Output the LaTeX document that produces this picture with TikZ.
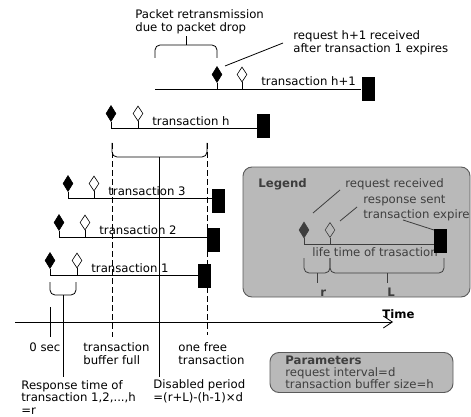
\documentclass[tikz,border=0pt]{standalone}
\usepackage{fontspec}
\setmainfont{DejaVu Sans}
\usetikzlibrary{shapes.geometric,arrows.meta}
\definecolor{panelfill}{HTML}{B9B9B9}
\definecolor{panelline}{HTML}{5A5A5A}
\definecolor{paneltext}{HTML}{3E3E3E}
\begin{document}
\begin{tikzpicture}[x=1pt,y=-1pt,
  every path/.style={line width=0.8pt},
  lbl/.style={inner sep=0pt, font=\fontsize{11.7}{13}\selectfont, anchor=base west},
  mlbl/.style={inner sep=0pt, font=\fontsize{11.7}{13}\selectfont, anchor=north west, align=left},
  req/.style={diamond, draw, fill=black, minimum width=10pt, minimum height=16pt, inner sep=0pt, line width=0.6pt},
  resp/.style={diamond, draw, fill=white, minimum width=10pt, minimum height=15pt, inner sep=0pt, line width=0.6pt},
  expire/.style={rectangle, fill=black, minimum width=13pt, minimum height=24pt, inner sep=0pt},
  brace/.style={rounded corners=5pt},
  guide/.style={dash pattern=on 6pt off 3pt},
  panel/.style={draw=panelline, fill=panelfill, rounded corners=9pt, line width=0.9pt, inner sep=0pt},
]
\useasboundingbox (0,0) rectangle (471,417);

% ---------- transaction h+1 ----------
\coordinate (sH1) at (155,89);
\node[req]  (qH1) at (217,74.5) {};
\node[resp] (pH1) at (242,74.5) {};
\node[expire] (eH1) at (368,89) {};
\draw (sH1) -- (sH1 -| eH1.west);
\draw (qH1.south) -- (qH1.south |- sH1);
\draw (pH1.south) -- (pH1.south |- sH1);
\node[lbl] (tH1) at (261,86) {transaction h+1};

% retransmission brace
\draw[brace] (155,58) -- (155,45) -- (217,45) -- (217,58);
\coordinate (retxTop) at (186,36);
\coordinate (retxMid) at (186,45);
\draw (retxMid) -- (retxTop);
\node[mlbl] (retx) at (135,9.5) {Packet retransmission\\due to packet drop};

% late request note
\node[mlbl] (late) at (293,30.5) {request h+1 received\\after transaction 1 expires};
\coordinate (lateA) at (283,43);
\coordinate (lateB) at (225,66);
\draw (lateA) -- (lateB);

% ---------- transaction h ----------
\coordinate (sH) at (111,128);
\node[req]  (qH) at (111,113.5) {};
\node[resp] (pH) at (138,113.5) {};
\node[expire] (eH) at (263.5,126.5) {};
\draw (sH) -- (sH -| eH.west);
\draw (qH.south) -- (qH.south |- sH);
\draw (pH.south) -- (pH.south |- sH);
\node[lbl] (tH) at (152,125) {transaction h};

% ---------- transaction 3 ----------
\coordinate (s3) at (68,198);
\node[req]  (q3) at (68,183.5) {};
\node[resp] (p3) at (94,183.5) {};
\node[lbl] (t3) at (108,195) {transaction 3};
\draw (s3) -- (225,198);
\node[expire] (e3) at (218.5,200.5) {};
\draw (q3.south) -- (q3.south |- s3);
\draw (p3.south) -- (p3.south |- s3);

% ---------- transaction 2 ----------
\coordinate (s2) at (59,237);
\node[req]  (q2) at (59,222.5) {};
\node[resp] (p2) at (85,222.5) {};
\node[lbl] (t2) at (99,234) {transaction 2};
\draw (s2) -- (213,237);
\node[expire] (e2) at (213,239.5) {};
\draw (q2.south) -- (q2.south |- s2);
\draw (p2.south) -- (p2.south |- s2);

% ---------- transaction 1 ----------
\coordinate (s1) at (50,275);
\node[req]  (q1) at (50,260.5) {};
\node[resp] (p1) at (77,260.5) {};
\node[lbl] (t1) at (91,272) {transaction 1};
\draw (s1) -- (204,275);
\node[expire] (e1) at (204.5,275.5) {};
\draw (q1.south) -- (q1.south |- s1);
\draw (p1.south) -- (p1.south |- s1);

% ---------- disabled period ----------
\coordinate (fullTop) at (112,143);
\coordinate (fullBot) at (112,337);
\coordinate (freeTop) at (207,143);
\coordinate (freeBot) at (207,335);
\draw[guide] (fullTop) -- (fullBot);
\draw[guide] (freeTop) -- (freeBot);
\draw[brace] (fullTop) -- (112,157) -- (207,157) -- (freeTop);
\coordinate (disTop) at (159.5,157);
\coordinate (disBot) at (159.5,377);
\draw (disTop) -- (disBot);

% ---------- response time ----------
\draw[brace] (50,282) -- (50,295) -- (76,295) -- (76,282);
\coordinate (rspTop) at (63,295);
\coordinate (rspBot) at (63,377);
\draw (rspTop) -- (rspBot);
\coordinate (zeroTop) at (50,307);
\coordinate (zeroBot) at (50,337);
\draw (zeroTop) -- (zeroBot);

% ---------- time axis ----------
\coordinate (axL) at (15,322);
\coordinate (axR) at (393,322);
\draw[-{Straight Barb[length=9pt,width=12pt]}] (axL) -- (axR);
\node[lbl, font=\fontsize{11.7}{13}\selectfont\bfseries] (time) at (382,318) {Time};

% ---------- axis annotations ----------
\node[lbl] (zero) at (29,351) {0 sec};
\node[mlbl] (full) at (83,342.2) {transaction\\buffer full};
\node[mlbl] (free) at (178,341.8) {one free\\transaction};
\node[mlbl, font=\fontsize{11.7}{12.6}\selectfont] (rsp) at (21,380) {Response time of\\transaction 1,2,...,h\\=r};
\node[mlbl] (dis) at (153,379.2) {Disabled period\\=(r+L)-(h-1)×d};

% ---------- legend ----------
\node[panel, minimum width=227pt, minimum height=130pt] (legend) at (356.5,232) {};
\begin{scope}[color=paneltext, text=paneltext]
\node[lbl, font=\fontsize{11.7}{13}\selectfont\bfseries] (legTitle) at (258,187) {Legend};
\node[lbl] (legReq) at (345,187) {request received};
\node[lbl] (legResp) at (363,203) {response sent};
\node[lbl] (legExp) at (363,218.5) {transaction expire};
\coordinate (lsL) at (304,244);
\node[req, draw=paneltext, fill=paneltext] (lq) at (304,230) {};
\node[resp, draw=paneltext, fill=panelfill] (lp) at (330,230) {};
\node[lbl] (life) at (312,256) {life time of trasaction};
\node[expire] (le) at (440.5,240.5) {};
\draw (lsL) -- (lsL -| le.west);
\draw (lq.south) -- (lq.south |- lsL);
\draw (lp.south) -- (lp.south |- lsL);
\coordinate (lpa1) at (340,190); \coordinate (lpb1) at (313,213);
\coordinate (lpa2) at (357,207); \coordinate (lpb2) at (340,221);
\coordinate (lpa3) at (403,220); \coordinate (lpb3) at (434,230);
\draw (lpa1) -- (lpb1);
\draw (lpa2) -- (lpb2);
\draw (lpa3) -- (lpb3);
\draw[brace] (304,258) -- (304,273) -- (330,273) -- (330,258);
\draw[brace] (330,258) -- (330,273) -- (444,273) -- (444,258);
\coordinate (rTop) at (317,273); \coordinate (rBot) at (317,283);
\coordinate (LTop) at (387,273); \coordinate (LBot) at (387,283);
\draw (rTop) -- (rBot);
\draw (LTop) -- (LBot);
\node[lbl, font=\fontsize{11.7}{13}\selectfont\bfseries] (rlbl) at (320,296) {r};
\node[lbl, font=\fontsize{11.7}{13}\selectfont\bfseries] (Llbl) at (387,296) {L};
\end{scope}

% ---------- parameters ----------
\node[panel, minimum width=183pt, minimum height=40pt] (params) at (361.5,372.5) {};
\node[mlbl, text=paneltext, font=\fontsize{11.7}{12.2}\selectfont] (paramTxt) at (285,355.5)
  {\textbf{Parameters}\\request interval=d\\transaction buffer size=h};
\end{tikzpicture}
\end{document}
